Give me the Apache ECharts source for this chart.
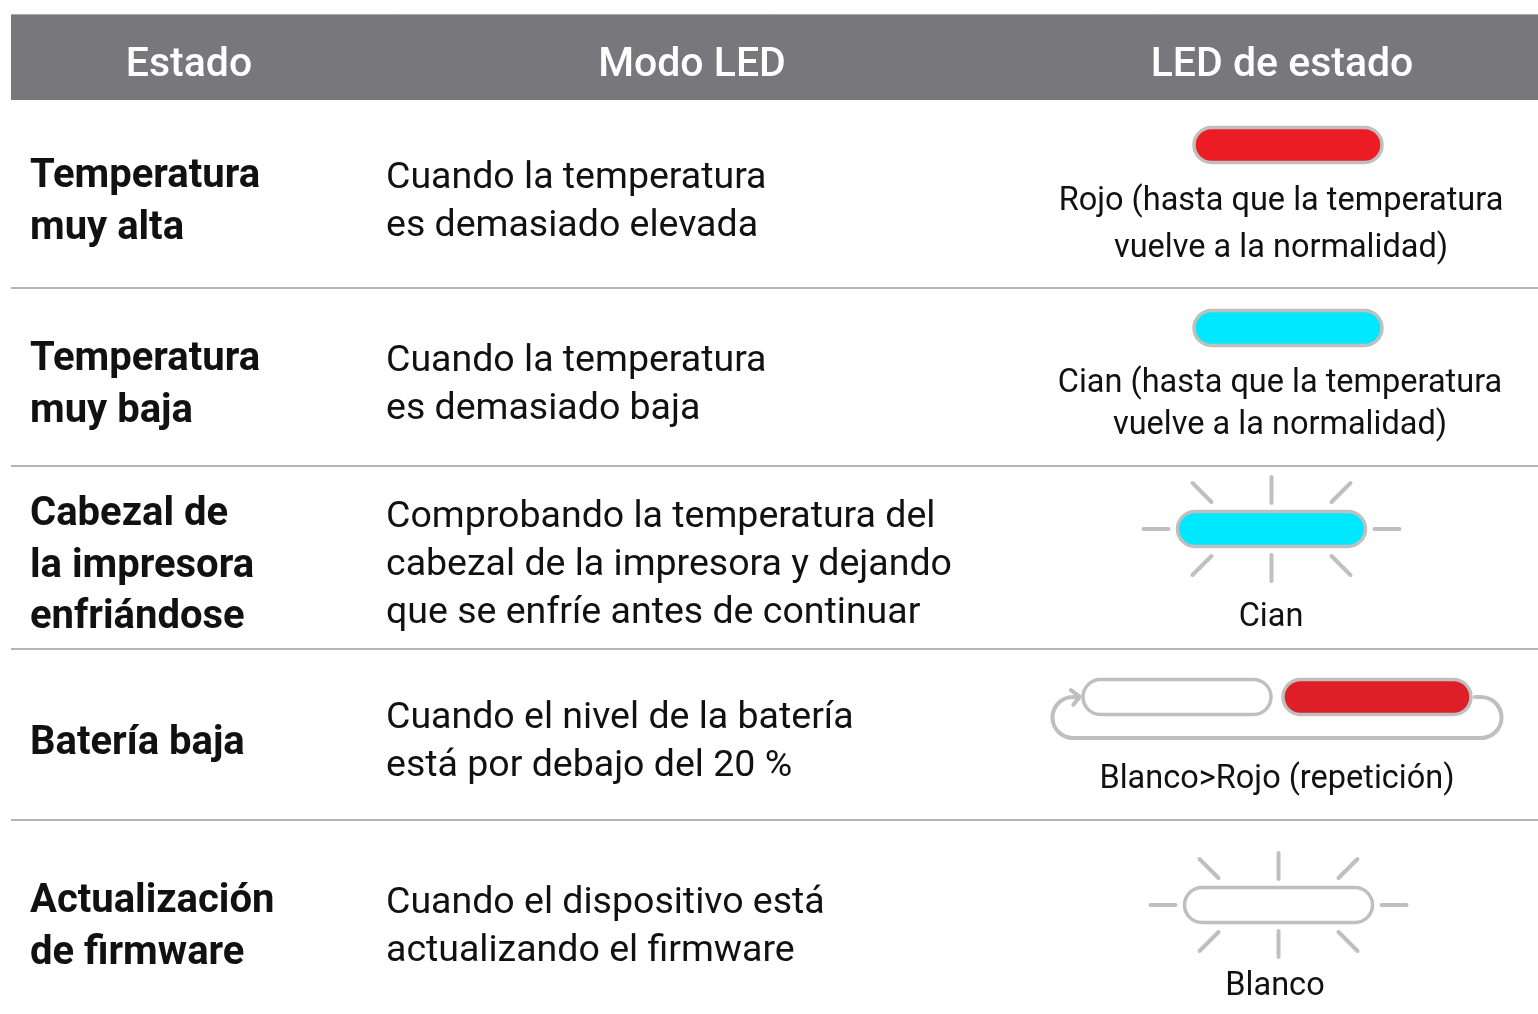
<!DOCTYPE html>
<html><head><meta charset="utf-8">
<script src="https://cdn.jsdelivr.net/npm/echarts@6/dist/echarts.min.js"></script>
<style>html,body{margin:0;padding:0;background:#fff;overflow:hidden}#c{width:1538px;height:1014px}</style>
</head><body><div id="c"></div>
<script>
// ---- data ----
const headers = ['Estado', 'Modo LED', 'LED de estado'];
const states = [
  ['Temperatura', 'muy alta'],
  ['Temperatura', 'muy baja'],
  ['Cabezal de', 'la impresora', 'enfriándose'],
  ['Batería baja'],
  ['Actualización', 'de firmware']
];
const modes = [
  ['Cuando la temperatura', 'es demasiado elevada'],
  ['Cuando la temperatura', 'es demasiado baja'],
  ['Comprobando la temperatura del', 'cabezal de la impresora y dejando', 'que se enfríe antes de continuar'],
  ['Cuando el nivel de la batería', 'está por debajo del 20 %'],
  ['Cuando el dispositivo está', 'actualizando el firmware']
];
const ledLabels = [
  ['Rojo (hasta que la temperatura', 'vuelve a la normalidad)'],
  ['Cian (hasta que la temperatura', 'vuelve a la normalidad)'],
  ['Cian'],
  ['Blanco>Rojo (repetición)'],
  ['Blanco']
];
const ledPatterns = ['steady', 'steady', 'blink', 'cycle', 'blink'];
const ledColors = [['rojo'], ['cian'], ['cian'], ['blanco', 'rojoOscuro'], ['blanco']];

// ---- styles / layout ----
const colorMap = { rojo: '#ec1c24', rojoOscuro: '#de1f27', cian: '#00e8fe', blanco: '#ffffff' };
const GRAY = '#bfbfbf';
const TEXT = '#111111';
const FONT = 'Roboto';
const tableX0 = 11, tableX1 = 1538;
const headerY0 = 14, headerY1 = 100;
const rowEdges = [100, 288, 466, 649, 820, 1014];
const headerCenters = [189, 692, 1282];
const stateX = 30, modeX = 386;
const textShift = [5, 5, 5, 5, 7];
const TEXT_DY = 3.5;
const ledLayout = [
  { cx: 1288, y: 145, lx: 1281, ly: 198, lh: 47 },
  { cx: 1288, y: 328, lx: 1280, ly: 380, lh: 42 },
  { cx: 1271.5, y: 529, lx: 1271, ly: 614, lh: 44 },
  { cx: 1277, y: 697, lx: 1277, ly: 776, lh: 44 },
  { cx: 1278.5, y: 905, lx: 1275, ly: 983, lh: 44 }
];
const PILL_W = 188, PILL_H = 35;

const chart = echarts.init(document.getElementById('c'), null, { renderer: 'canvas' });

function pill(api, cx, cy, fill) {
  const p = api.coord([cx - PILL_W / 2, cy - PILL_H / 2]);
  return { type: 'rect', shape: { x: p[0], y: p[1], width: PILL_W, height: PILL_H, r: PILL_H / 2 },
    style: { fill: fill, stroke: GRAY, lineWidth: 3.5 } };
}
const rays = [
  [0, -52, 0, -26], [0, 26, 0, 52], [-128, 0, -103, 0], [103, 0, 128, 0],
  [-79, -46, -60, -27], [79, -46, 60, -27], [-79, 46, -60, 27], [79, 46, 60, 27]
];

function renderHeader(params, api) {
  const i = api.value(0);
  const children = [];
  if (i === 0) {
    const a = api.coord([tableX0, headerY0]);
    const b = api.coord([tableX1, headerY1]);
    children.push({ type: 'rect', shape: { x: a[0], y: a[1], width: b[0] - a[0], height: b[1] - a[1] },
      style: { fill: '#78787c' } });
    children.push({ type: 'line', shape: { x1: a[0], y1: a[1] + 0.5, x2: b[0], y2: a[1] + 0.5 },
      style: { stroke: '#a9a9ac', lineWidth: 1 } });
  }
  const c = api.coord([headerCenters[i], (headerY0 + headerY1) / 2 + 9]);
  children.push({ type: 'text', x: c[0], y: c[1],
    style: { text: headers[i], fill: '#ffffff', fontSize: 41, fontFamily: FONT, fontWeight: 500,
      align: 'center', verticalAlign: 'middle' } });
  return { type: 'group', children: children };
}

function renderRow(params, api) {
  const i = api.value(0);
  const children = [];
  const top = rowEdges[i], bottom = rowEdges[i + 1];
  const mid = (top + bottom) / 2 + textShift[i] + TEXT_DY;
  if (i > 0) {
    const a = api.coord([tableX0, top]);
    const b = api.coord([tableX1, top]);
    children.push({ type: 'line', shape: { x1: a[0], y1: a[1], x2: b[0], y2: b[1] },
      style: { stroke: '#9c9c9c', lineWidth: 1.6 } });
  }
  const s = api.coord([stateX, mid + 0.5]);
  children.push({ type: 'text', x: s[0], y: s[1],
    style: { text: states[i].join('\n'), fill: TEXT, fontSize: 40, fontFamily: FONT, fontWeight: 'bold',
      lineHeight: 51.5, align: 'left', verticalAlign: 'middle' } });
  const m = api.coord([modeX, mid]);
  children.push({ type: 'text', x: m[0], y: m[1],
    style: { text: modes[i].join('\n'), fill: TEXT, fontSize: 37.5, fontFamily: FONT,
      lineHeight: 48, align: 'left', verticalAlign: 'middle' } });

  const L = ledLayout[i];
  const cols = ledColors[i].map(k => colorMap[k]);
  if (ledPatterns[i] === 'cycle') {
    const off = PILL_W / 2 + 6;
    children.push(pill(api, L.cx - off, L.y, cols[0]));
    children.push(pill(api, L.cx + off, L.y, cols[1]));
    const r = 20.5;
    const rc = api.coord([L.cx + 204, L.y]);
    const lc = api.coord([L.cx - 204, L.y + r]);
    const st = api.coord([L.cx + 198, L.y]);
    const ang = 285 * Math.PI / 180;
    const ex = lc[0] + r * Math.cos(ang), ey = lc[1] + r * Math.sin(ang);
    const d = 'M' + st[0] + ' ' + st[1] + ' L' + rc[0] + ' ' + rc[1] +
      ' A' + r + ' ' + r + ' 0 0 1 ' + rc[0] + ' ' + (rc[1] + 2 * r) +
      ' L' + lc[0] + ' ' + (lc[1] + r) +
      ' A' + r + ' ' + r + ' 0 1 1 ' + ex + ' ' + ey;
    children.push({ type: 'path', shape: { pathData: d },
      style: { fill: 'none', stroke: GRAY, lineWidth: 4, lineCap: 'round', lineJoin: 'round' } });
    const tip = [ex + 1.5, ey - 1];
    const arrow = 'M' + (tip[0] - 9) + ' ' + (tip[1] - 6.5) + ' L' + tip[0] + ' ' + tip[1] + ' L' + (tip[0] - 6.5) + ' ' + (tip[1] + 8);
    children.push({ type: 'path', shape: { pathData: arrow },
      style: { fill: 'none', stroke: GRAY, lineWidth: 4, lineCap: 'round', lineJoin: 'round' } });
  } else {
    if (ledPatterns[i] === 'blink') {
      rays.forEach(rr => {
        const p1 = api.coord([L.cx + rr[0], L.y + rr[1]]);
        const p2 = api.coord([L.cx + rr[2], L.y + rr[3]]);
        children.push({ type: 'line', shape: { x1: p1[0], y1: p1[1], x2: p2[0], y2: p2[1] },
          style: { stroke: GRAY, lineWidth: 4, lineCap: 'round' } });
      });
    }
    children.push(pill(api, L.cx, L.y, cols[0]));
  }
  const n = ledLabels[i].length;
  const lp = api.coord([L.lx, L.ly + (n - 1) * L.lh / 2 + TEXT_DY]);
  children.push({ type: 'text', x: lp[0], y: lp[1],
    style: { text: ledLabels[i].join('\n'), fill: TEXT, fontSize: 32.5, fontFamily: FONT,
      lineHeight: L.lh, align: 'center', verticalAlign: 'middle' } });
  return { type: 'group', children: children };
}

chart.setOption({
  animation: false,
  backgroundColor: '#ffffff',
  grid: { left: 0, right: 0, top: 0, bottom: 0 },
  xAxis: { type: 'value', min: 0, max: 1538, show: false },
  yAxis: { type: 'value', min: 0, max: 1014, inverse: true, show: false },
  series: [
    { type: 'custom', silent: true, renderItem: renderHeader, data: headers.map((h, i) => [i, i]) },
    { type: 'custom', silent: true, renderItem: renderRow, data: states.map((s, i) => [i, i]) }
  ]
});
</script></body></html>
